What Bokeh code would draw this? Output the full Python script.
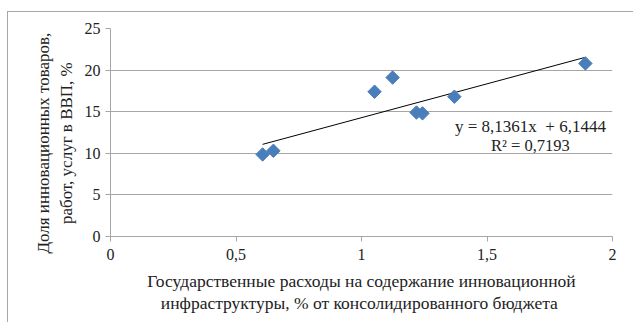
from bokeh.plotting import figure
from bokeh.models import Range1d, FixedTicker, CustomJSTickFormatter, Label
from bokeh.embed import file_html
from bokeh.resources import INLINE
import numpy as np

# Data
x_vals = [0.606, 0.649, 1.052, 1.124, 1.219, 1.243, 1.370, 1.892]
y_vals = [9.86, 10.3, 17.4, 19.1, 14.9, 14.8, 16.8, 20.8]
slope = 8.1361
intercept = 6.1444
x_ticks = [0, 0.5, 1, 1.5, 2]
y_ticks = [0, 5, 10, 15, 20, 25]
eq_text = "y = 8,1361x \u00a0+ 6,1444"
r2_text = "R² = 0,7193"
x_title = "Государственные расходы на содержание инновационной\nинфраструктуры, % от консолидированного  бюджета"
y_title_lines = ["Доля инновационных товаров,", "работ, услуг в ВВП, %"]

FONT = "Liberation Serif"
GRAY = "#a6a6a6"
TXT = "#222222"

p = figure(width=633, height=322, output_backend="svg", toolbar_location=None,
           x_range=Range1d(0, 2), y_range=Range1d(0, 25),
           min_border_left=110, min_border_right=21, min_border_top=28, min_border_bottom=86)
p.outline_line_color = None
p.background_fill_color = "white"
p.border_fill_color = None
# outer chart-area border (left and top edges visible in the reference)
p.styles = {
    "background-color": "white",
    "background-image": f"linear-gradient({GRAY}, {GRAY}), linear-gradient({GRAY}, {GRAY})",
    "background-size": "1px 400px, 700px 1px",
    "background-position": "7px 11px, 7px 11px",
    "background-repeat": "no-repeat",
}

p.xgrid.grid_line_color = None
p.ygrid.grid_line_color = GRAY
p.ygrid.grid_line_width = 1
p.ygrid.ticker = FixedTicker(ticks=y_ticks)

fmt = CustomJSTickFormatter(code="return String(tick).replace('.', ',');")
p.xaxis.ticker = FixedTicker(ticks=x_ticks)
p.yaxis.ticker = FixedTicker(ticks=y_ticks)
p.xaxis.formatter = fmt
p.yaxis.formatter = fmt
for ax in (p.xaxis, p.yaxis):
    ax.axis_line_color = GRAY
    ax.major_tick_line_color = GRAY
    ax.major_tick_in = 0
    ax.major_tick_out = 5
    ax.minor_tick_line_color = None
    ax.major_label_text_font = FONT
    ax.major_label_text_font_size = "16px"
    ax.major_label_text_color = TXT
    ax.axis_label_text_font = FONT
    ax.axis_label_text_font_style = "normal"
    ax.axis_label_text_color = TXT
    ax.axis_label_text_line_height = 1.1
p.xaxis.axis_label_text_font_size = "17.5px"
p.yaxis.axis_label_text_font_size = "17px"
p.yaxis.axis_label_text_line_height = 1.2
p.xaxis.axis_label = x_title
# trailing no-break spaces nudge the centred title slightly downward, as in the reference
p.yaxis.axis_label = "\n".join(line + "\u00a0" * 5 for line in y_title_lines)
p.xaxis.major_label_standoff = 7
p.yaxis.major_label_standoff = 5
p.xaxis.axis_label_standoff = 8
p.yaxis.axis_label_standoff = 6

# trend line
xs = np.array([min(x_vals), max(x_vals)])
p.line(xs, slope * xs + intercept, line_color="black", line_width=1)

p.scatter(x_vals, y_vals, marker="square", size=9.5, angle=np.pi / 4,
          fill_color="#4a7ebb", line_color="#4a7ebb")

p.add_layout(Label(x=1.673, y=13.2, text=eq_text, text_align="center", text_baseline="middle",
                   text_font=FONT, text_font_size="17px", text_color=TXT))
p.add_layout(Label(x=1.673, y=10.9, text=r2_text, text_align="center", text_baseline="middle",
                   text_font=FONT, text_font_size="16.5px", text_color=TXT))

open("out.html", "w").write(file_html(p, INLINE))
